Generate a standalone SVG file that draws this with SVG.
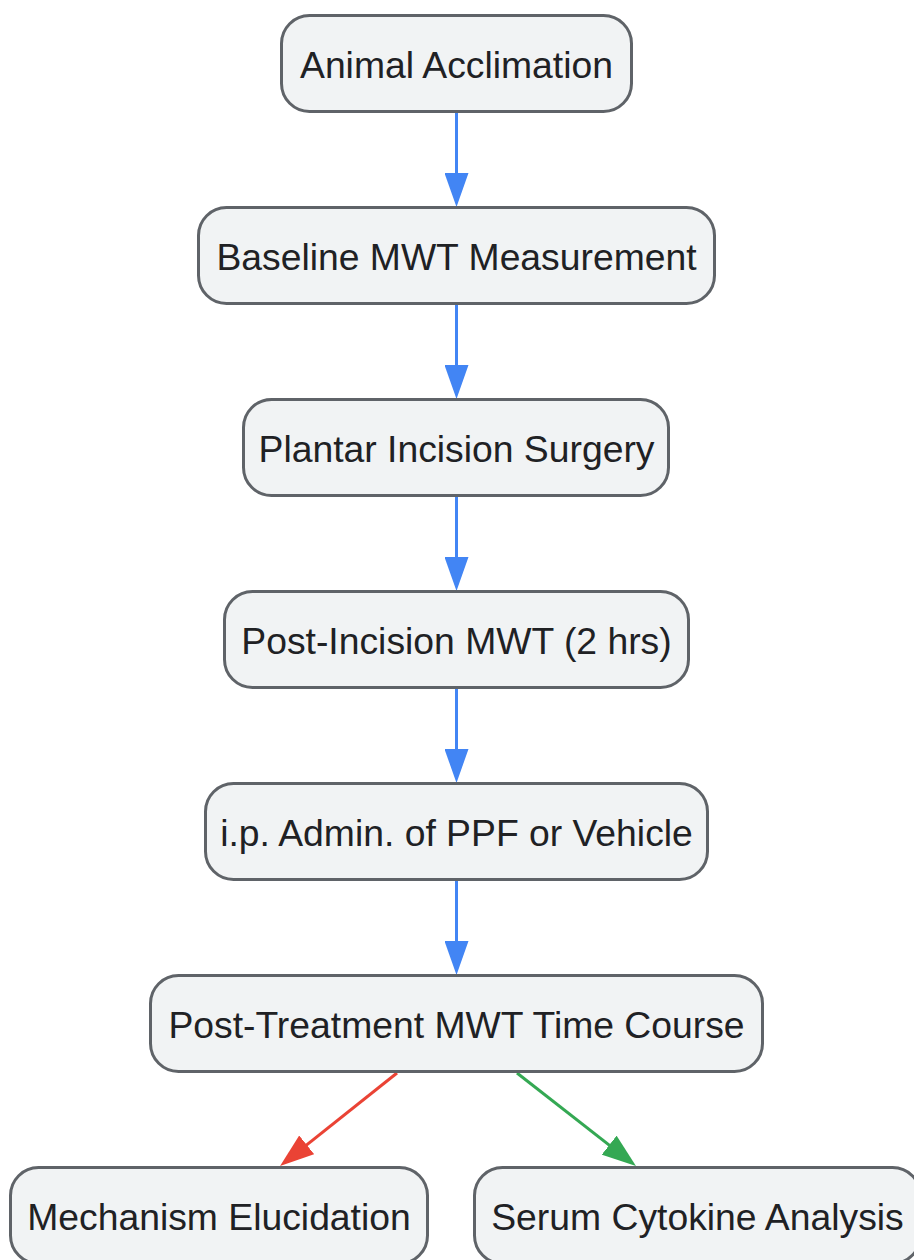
<svg xmlns="http://www.w3.org/2000/svg" width="914" height="1260" viewBox="0 0 914 1260">
<style>
.n rect{fill:#f1f3f4;stroke:#5f6368;stroke-width:3}
.n text{font-family:"Liberation Sans",Arial,sans-serif;font-size:37.3px;fill:#202124;text-anchor:middle}
.e{fill:none;stroke-width:3}
</style>
<defs>
<marker id="mb" viewBox="0 0 34 24" refX="24" refY="12" markerWidth="34" markerHeight="24" markerUnits="userSpaceOnUse" orient="auto"><path d="M0,0L34,12L0,24Z" fill="#4285f4"/></marker>
<marker id="mr" viewBox="0 0 34 24" refX="24" refY="12" markerWidth="34" markerHeight="24" markerUnits="userSpaceOnUse" orient="auto"><path d="M0,0L34,12L0,24Z" fill="#ea4335"/></marker>
<marker id="mg" viewBox="0 0 34 24" refX="24" refY="12" markerWidth="34" markerHeight="24" markerUnits="userSpaceOnUse" orient="auto"><path d="M0,0L34,12L0,24Z" fill="#34a853"/></marker>
</defs>
<rect width="914" height="1260" fill="#ffffff"/>
<g id="connectors">
<path class="e" stroke="#4285f4" d="M456.5,113V197" marker-end="url(#mb)"/>
<path class="e" stroke="#4285f4" d="M456.5,305V389" marker-end="url(#mb)"/>
<path class="e" stroke="#4285f4" d="M456.5,497V581" marker-end="url(#mb)"/>
<path class="e" stroke="#4285f4" d="M456.5,689V773" marker-end="url(#mb)"/>
<path class="e" stroke="#4285f4" d="M456.5,881V965" marker-end="url(#mb)"/>
<path class="e" stroke="#ea4335" d="M397,1073L287.9,1159.8" marker-end="url(#mr)"/>
<path class="e" stroke="#34a853" d="M517,1073L628.1,1159.9" marker-end="url(#mg)"/>
</g>
<g id="n1" class="n"><rect x="281.5" y="15.5" width="350" height="96" rx="28"/><text x="456.5" y="78">Animal Acclimation</text></g>
<g id="n2" class="n"><rect x="198.5" y="207.5" width="516" height="96" rx="28"/><text x="456.5" y="270">Baseline MWT Measurement</text></g>
<g id="n3" class="n"><rect x="243.5" y="399.5" width="425" height="96" rx="28"/><text x="456.5" y="462">Plantar Incision Surgery</text></g>
<g id="n4" class="n"><rect x="224.5" y="591.5" width="464" height="96" rx="28"/><text x="456.5" y="654">Post-Incision MWT (2 hrs)</text></g>
<g id="n5" class="n"><rect x="205.5" y="783.5" width="502" height="96" rx="28"/><text x="456.5" y="846">i.p. Admin. of PPF or Vehicle</text></g>
<g id="n6" class="n"><rect x="150.5" y="975.5" width="612" height="96" rx="28"/><text x="456.5" y="1038">Post-Treatment MWT Time Course</text></g>
<g id="n7" class="n"><rect x="10.5" y="1167.5" width="417" height="96" rx="28"/><text x="219" y="1230">Mechanism Elucidation</text></g>
<g id="n8" class="n"><rect x="474.5" y="1167.5" width="446" height="96" rx="28"/><text x="697.5" y="1230">Serum Cytokine Analysis</text></g>
</svg>
